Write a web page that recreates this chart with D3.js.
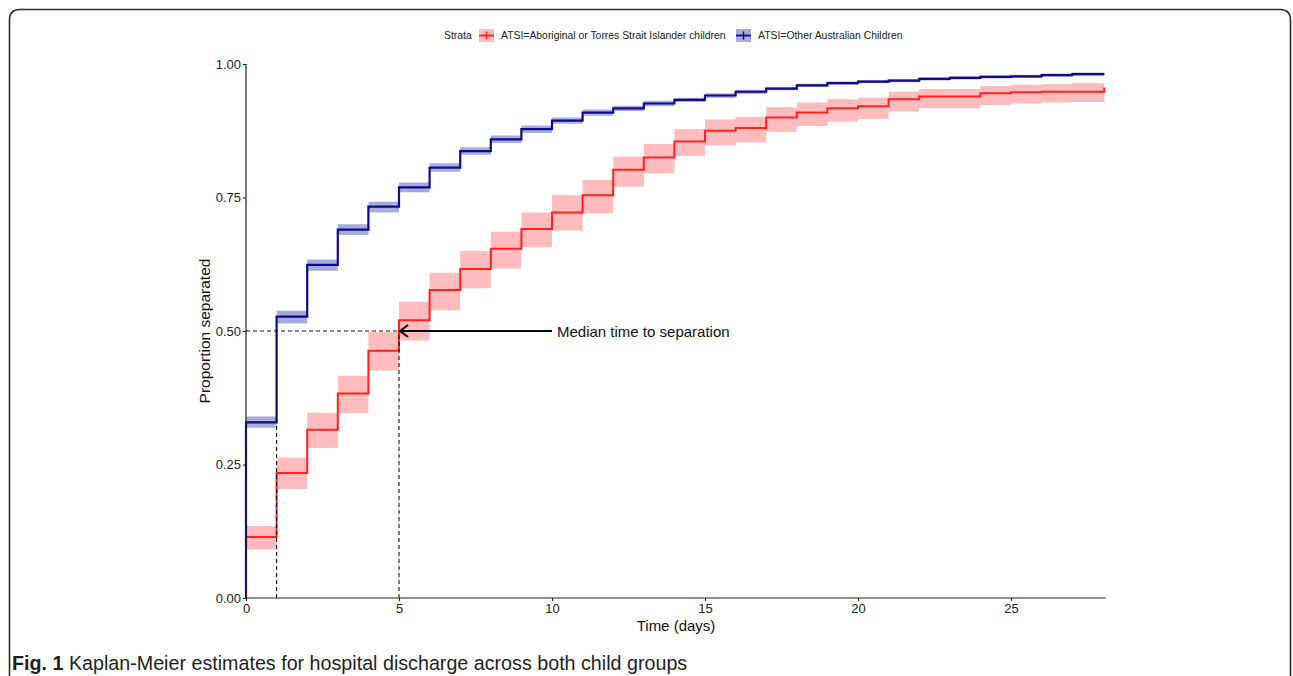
<!DOCTYPE html>
<html>
<head>
<meta charset="utf-8">
<script src="https://cdn.jsdelivr.net/npm/d3@7"></script>
<style>
  html, body { margin: 0; padding: 0; background: #fff; }
  svg { display: block; }
  text { font-family: "Liberation Sans", Arial, sans-serif; }
</style>
</head>
<body>
<svg id="chart" width="1293" height="676"></svg>
<script>
// ---------- data ----------
const stepTimes = [0,1,2,3,4,5,6,7,8,9,10,11,12,13,14,15,16,17,18,19,20,21,22,23,24,25,26,27];
const endTime = 28.05;

const seriesNames = ["ATSI=Aboriginal or Torres Strait Islander children", "ATSI=Other Australian Children"];

// Aboriginal or Torres Strait Islander children
const atsiEst   = [0.114,0.234,0.315,0.383,0.463,0.520,0.577,0.616,0.654,0.691,0.722,0.754,0.802,0.825,0.855,0.875,0.880,0.900,0.909,0.917,0.921,0.934,0.939,0.939,0.945,0.947,0.948,0.948];
const atsiLower = [0.091,0.204,0.281,0.346,0.426,0.482,0.539,0.580,0.617,0.657,0.688,0.720,0.770,0.795,0.828,0.848,0.853,0.873,0.884,0.892,0.897,0.911,0.917,0.917,0.923,0.926,0.928,0.929];
const atsiUpper = [0.135,0.263,0.347,0.416,0.498,0.555,0.609,0.650,0.686,0.722,0.754,0.783,0.827,0.850,0.878,0.896,0.901,0.919,0.928,0.934,0.937,0.948,0.953,0.953,0.959,0.961,0.962,0.964];
const atsiEnd = 0.956;

// Other Australian children
const otherEst   = [0.329,0.527,0.624,0.690,0.733,0.769,0.806,0.837,0.859,0.878,0.894,0.909,0.917,0.926,0.933,0.941,0.948,0.954,0.960,0.964,0.967,0.969,0.972,0.974,0.976,0.977,0.979,0.981];
const otherLower = [0.319,0.514,0.613,0.680,0.722,0.760,0.798,0.830,0.852,0.871,0.888,0.903,0.912,0.921,0.929,0.937,0.944,0.951,0.957,0.961,0.964,0.966,0.969,0.971,0.973,0.974,0.976,0.978];
const otherUpper = [0.340,0.538,0.634,0.700,0.742,0.778,0.814,0.844,0.866,0.885,0.900,0.915,0.922,0.931,0.937,0.945,0.952,0.957,0.963,0.967,0.970,0.972,0.975,0.977,0.979,0.980,0.982,0.984];
const otherEnd = 0.981;

const xTicks = [0,5,10,15,20,25];
const yTicks = [0,0.25,0.5,0.75,1];
const medianTimes = [1,5];
const medianLevel = 0.5;

const xTitle = "Time (days)";
const yTitle = "Proportion separated";
const legendTitle = "Strata";
const annotation = "Median time to separation";
const captionBold = "Fig. 1";
const captionText = " Kaplan-Meier estimates for hospital discharge across both child groups";

// ---------- layout ----------
const svg = d3.select("#chart");
const x = d3.scaleLinear().domain([0, 28.1]).range([246, 246 + 28.1 * 30.6]);
const y = d3.scaleLinear().domain([0, 1]).range([598, 64]);

const red = "#ff2020", redFill = "#ff2020";
const blue = "#0b0b8c", blueFill = "#2020a0";

// frame (rounded, open at the bottom)
svg.append("path")
  .attr("d", "M9.5,700 L9.5,20 Q9.5,9.5 20,9.5 L1280,9.5 Q1290.5,9.5 1290.5,20 L1290.5,700")
  .attr("fill", "none").attr("stroke", "#2b2b2b").attr("stroke-width", 1.6);

function buildPts(est, lo, up, endV) {
  const pts = stepTimes.map((t, i) => ({t, v: est[i], lo: lo[i], up: up[i]}));
  const n = pts.length - 1;
  pts.push({t: endTime, v: endV, lo: lo[n], up: up[n]});
  return pts;
}
const atsiPts = buildPts(atsiEst, atsiLower, atsiUpper, atsiEnd);
const otherPts = buildPts(otherEst, otherLower, otherUpper, otherEnd);

const area = d3.area().curve(d3.curveStepAfter)
  .x(d => x(d.t)).y0(d => y(d.lo)).y1(d => y(d.up));
const line = d3.line().curve(d3.curveStepAfter)
  .x(d => x(d.t)).y(d => y(d.v));

const plot = svg.append("g");
// ribbons
plot.append("path").datum(atsiPts.slice(0, -1).concat([{t: endTime, lo: atsiLower[atsiLower.length-1], up: atsiUpper[atsiUpper.length-1]}]))
  .attr("d", area).attr("fill", redFill).attr("fill-opacity", 0.3);
plot.append("path").datum(otherPts.slice(0, -1).concat([{t: endTime, lo: otherLower[otherLower.length-1], up: otherUpper[otherUpper.length-1]}]))
  .attr("d", area).attr("fill", blueFill).attr("fill-opacity", 0.38);

// median dashed guides
const dash = svg.append("g").attr("stroke", "#111").attr("stroke-width", 1.1).attr("stroke-dasharray", "4,3").attr("fill", "none");
dash.append("line").attr("x1", x(0)).attr("x2", x(d3.max(medianTimes))).attr("y1", y(medianLevel)).attr("y2", y(medianLevel));
medianTimes.forEach(t => {
  dash.append("line").attr("x1", x(t)).attr("x2", x(t)).attr("y1", y(0)).attr("y2", y(medianLevel));
});

// curves (start at 0 at time 0)
const startPt = {t: 0, v: 0};
plot.append("path").datum([startPt].concat(atsiPts)).attr("d", line)
  .attr("fill", "none").attr("stroke", red).attr("stroke-width", 2);
plot.append("path").datum([startPt].concat(otherPts)).attr("d", line)
  .attr("fill", "none").attr("stroke", blue).attr("stroke-width", 2.2);

// axes
const xAxis = svg.append("g").attr("transform", `translate(0,${y(0)})`)
  .call(d3.axisBottom(x).tickValues(xTicks).tickSize(3).tickPadding(3).tickFormat(d3.format("d")));
const yAxis = svg.append("g").attr("transform", `translate(${x(0)},0)`)
  .call(d3.axisLeft(y).tickValues(yTicks).tickSize(3).tickPadding(2).tickFormat(d3.format(".2f")));
[xAxis, yAxis].forEach(a => {
  a.select(".domain").attr("stroke", "#222").attr("stroke-width", 1.2);
  a.selectAll(".tick line").attr("stroke", "#222").attr("stroke-width", 1.1);
  a.selectAll(".tick text").attr("fill", "#222").style("font-size", "13px")
    .style("font-family", "'Liberation Sans', Arial, sans-serif");
});
xAxis.select(".domain").attr("d", `M${x(0)},0H${x.range()[1]}`);
yAxis.select(".domain").attr("d", `M0,${y(0)}V${y(1)}`);

// axis titles
svg.append("text").attr("x", 676).attr("y", 631).attr("text-anchor", "middle")
  .style("font-size", "15px").attr("fill", "#111").text(xTitle);
svg.append("text").attr("transform", `translate(210,${y(0.5)}) rotate(-90)`).attr("text-anchor", "middle")
  .style("font-size", "15.5px").attr("fill", "#111").text(yTitle);

// annotation arrow
const ay = y(medianLevel);
svg.append("line").attr("x1", 552).attr("x2", x(5) + 1).attr("y1", ay).attr("y2", ay)
  .attr("stroke", "#000").attr("stroke-width", 2);
svg.append("path").attr("d", `M${x(5) + 9},${ay - 6} L${x(5) + 1},${ay} L${x(5) + 9},${ay + 6}`)
  .attr("fill", "none").attr("stroke", "#000").attr("stroke-width", 2);
svg.append("text").attr("x", 557).attr("y", ay + 5.5).style("font-size", "15px").attr("fill", "#111").text(annotation);

// legend
const lg = svg.append("g");
lg.append("text").attr("x", 444).attr("y", 39).style("font-size", "10.4px").attr("fill", "#222").text(legendTitle);
const keyDefs = [
  {x0: 479, tx: 501, col: red, fill: redFill, op: 0.3, name: seriesNames[0]},
  {x0: 736, tx: 758, col: blue, fill: blueFill, op: 0.38, name: seriesNames[1]}
];
keyDefs.forEach(k => {
  lg.append("rect").attr("x", k.x0).attr("y", 29).attr("width", 15).attr("height", 13)
    .attr("fill", k.fill).attr("fill-opacity", k.op);
  lg.append("line").attr("x1", k.x0).attr("x2", k.x0 + 15).attr("y1", 35.5).attr("y2", 35.5)
    .attr("stroke", k.col).attr("stroke-width", 1.8);
  lg.append("line").attr("x1", k.x0 + 7.5).attr("x2", k.x0 + 7.5).attr("y1", 31.5).attr("y2", 39.5)
    .attr("stroke", k.col).attr("stroke-width", 1.5);
  lg.append("text").attr("x", k.tx).attr("y", 39).style("font-size", "10.4px").attr("fill", "#222").text(k.name);
});

// caption
const cap = svg.append("text").attr("x", 12).attr("y", 670).attr("fill", "#231f20").style("font-size", "18px");
cap.append("tspan").style("font-weight", "bold").text(captionBold);
cap.append("tspan").text(captionText);
const w = cap.node().getComputedTextLength();
const targetW = 676;
cap.style("font-size", (18 * targetW / w).toFixed(2) + "px");
</script>
</body>
</html>
